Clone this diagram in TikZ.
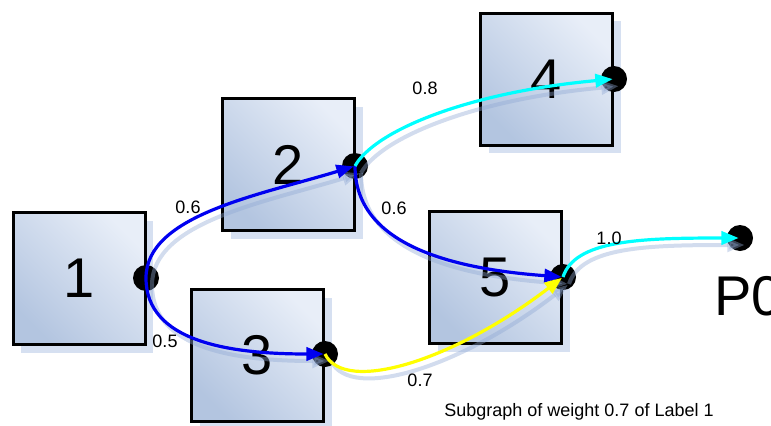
\documentclass[tikz,border=0pt]{standalone}
\usepackage{fontspec}
\setmainfont{Liberation Sans}
\usetikzlibrary{arrows.meta,shadows}
\definecolor{boxdark}{HTML}{B3C5E0}
\definecolor{boxlight}{HTML}{E8EEF8}
\definecolor{boxshadow}{HTML}{D6E0F1}
\definecolor{edgeshadow}{HTML}{8FA8D4}
\definecolor{eblue}{HTML}{0000F0}
\definecolor{ecyan}{HTML}{00FFFF}
\definecolor{eyellow}{HTML}{FFFF00}
\tikzset{
  boxnode/.style={draw=black, line width=2.25pt, minimum width=99pt, minimum height=99pt,
    inner sep=0pt, top color=boxlight, bottom color=boxdark, shading angle=-45,
    font=\fontsize{42}{42}\selectfont,
    drop shadow={shadow xshift=6pt, shadow yshift=-6pt, fill=boxshadow, opacity=1}},
  dotnode/.style={circle, fill=black, minimum size=19.5pt, inner sep=0pt},
  elabel/.style={font=\fontsize{13.5}{15}\selectfont, inner sep=0pt},
  tipstyle/.style={-{Triangle[length=13pt,width=10pt]}},
  edgebase/.style={line width=2.4pt, tipstyle, shorten >=1pt},
  blueedge/.style={edgebase, draw=eblue},
  cyanedge/.style={edgebase, draw=ecyan},
  yellowedge/.style={edgebase, draw=eyellow},
  shadowedge/.style={line width=3pt, draw=edgeshadow, draw opacity=0.4, fill opacity=0.4, tipstyle,
    shorten >=1pt, transform canvas={shift={(6,7)}}},
}
\begin{document}
\begin{tikzpicture}[x=0.75pt, y=-0.75pt]
\useasboundingbox (0,0) rectangle (771,425);
% boxes
\node[boxnode] (b1) at (79,278.5) {1};
\node[boxnode] (b2) at (288.5,164.5) {2};
\node[boxnode] (b3) at (257.5,355.5) {3};
\node[boxnode] (b4) at (546.5,79) {4};
\node[boxnode] (b5) at (495.5,277.5) {5};
% dots
\node[dotnode] (d1) at (146,278) {};
\node[dotnode] (d2) at (355,166) {};
\node[dotnode] (d3) at (325,354) {};
\node[dotnode] (d4) at (614,79) {};
\node[dotnode] (d5) at (563,277) {};
\node[dotnode] (dP) at (740,238) {};
% edge shadows
\draw[shadowedge] (d1.center) .. controls (146,215) and (260,195) .. (d2.center);
\draw[shadowedge] (d1.center) .. controls (146,342) and (230,354) .. (d3.center);
\draw[shadowedge] (d2.center) .. controls (355,240) and (440,268) .. (d5.center);
\draw[shadowedge] (d2.center) .. controls (375,130) and (470,92) .. (d4.center);
\draw[shadowedge] (d3.center) .. controls (345,395) and (455,360) .. (d5.center);
\draw[shadowedge] (d5.center) .. controls (575,240) and (640,238) .. (dP.center);
% edges
\draw[blueedge] (d1.center) .. controls (146,215) and (260,195) .. (d2.center);
\draw[blueedge] (d1.center) .. controls (146,342) and (230,354) .. (d3.center);
\draw[blueedge] (d2.center) .. controls (355,240) and (440,268) .. (d5.center);
\draw[cyanedge] (d2.center) .. controls (375,130) and (470,92) .. (d4.center);
\draw[yellowedge] (d3.center) .. controls (345,395) and (455,360) .. (d5.center);
\draw[cyanedge] (d5.center) .. controls (575,240) and (640,238) .. (dP.center);
% edge labels
\node[elabel] (l12) at (188,207) {0.6};
\node[elabel] (l13) at (165,341) {0.5};
\node[elabel] (l24) at (425,88) {0.8};
\node[elabel] (l25) at (394,208) {0.6};
\node[elabel] (l5P) at (609,238) {1.0};
\node[elabel] (l35) at (420,380) {0.7};
% P0 label (cut off at the right edge, as in the reference)
\node[anchor=base west, inner sep=0pt, font=\fontsize{42}{42}\selectfont] (p0) at (714,315) {P0};
% caption
\node[elabel] (cap) at (579,412) {Subgraph of weight 0.7 of Label 1};
\end{tikzpicture}
\end{document}
